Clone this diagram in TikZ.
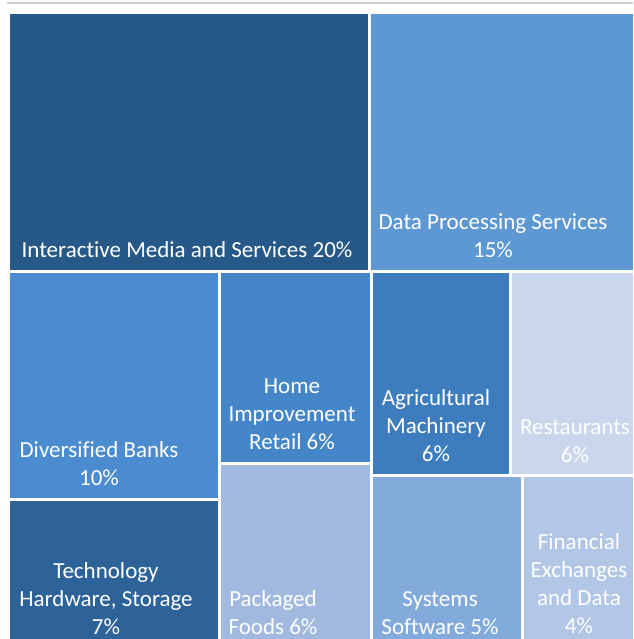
\documentclass[tikz,border=0pt]{standalone}
\usepackage{fontspec}
\setmainfont{Carlito}[Ligatures=NoCommon]
\usepackage{tikz}
\usetikzlibrary{positioning}
\definecolor{tmIMS}{RGB}{38,89,135}
\definecolor{tmDPS}{RGB}{94,152,211}
\definecolor{tmDB}{RGB}{74,140,207}
\definecolor{tmTHS}{RGB}{45,99,152}
\definecolor{tmHIR}{RGB}{68,134,200}
\definecolor{tmPF}{RGB}{161,185,223}
\definecolor{tmAM}{RGB}{62,125,189}
\definecolor{tmRE}{RGB}{201,214,236}
\definecolor{tmSS}{RGB}{130,170,218}
\definecolor{tmFED}{RGB}{178,198,229}
\definecolor{tmrule}{RGB}{205,205,205}
\tikzstyle{tile} = [rectangle, draw=none, inner sep=0pt, outer sep=0pt, anchor=north west]
\tikzstyle{label} = [text=white, align=center, inner sep=0pt, font=\fontsize{23}{28}\selectfont]

\begin{document}
\begin{tikzpicture}[x=1pt, y=-1pt]
\useasboundingbox (0,0) rectangle (633,639);
% rule above the chart
\draw[tmrule, line width=1.5pt] (7,3) -- (633,3);

% Treemap tiles
\node (ims) [tile, fill=tmIMS, minimum width=358pt, minimum height=256pt] at (10,14) {};
\node (dps) [tile, fill=tmDPS, minimum width=262pt, minimum height=256pt] at (371,14) {};
\node (db) [tile, fill=tmDB, minimum width=208pt, minimum height=225pt] at (10,273) {};
\node (ths) [tile, fill=tmTHS, minimum width=208pt, minimum height=138pt] at (10,501) {};
\node (hir) [tile, fill=tmHIR, minimum width=149pt, minimum height=189pt] at (221,273) {};
\node (pf) [tile, fill=tmPF, minimum width=149pt, minimum height=174pt] at (221,465) {};
\node (am) [tile, fill=tmAM, minimum width=136pt, minimum height=201pt] at (373,273) {};
\node (re) [tile, fill=tmRE, minimum width=121pt, minimum height=201pt] at (512,273) {};
\node (ss) [tile, fill=tmSS, minimum width=148pt, minimum height=162pt] at (373,477) {};
\node (fed) [tile, fill=tmFED, minimum width=109pt, minimum height=162pt] at (524,477) {};

% Labels
\node (imslbl) [label] at (187,250) {Interactive Media and Services 20\%};
\node (dpslbl) [label] at (493,236) {Data Processing Services\\15\%};
\node (dblbl) [label] at (99,464) {Diversified Banks\\10\%};
\node (thslbl) [label] at (106,599) {Technology\\Hardware, Storage\\7\%};
\node (hirlbl) [label] at (292,414) {Home\\Improvement\\Retail 6\%};
\node (pflbl) [label] at (273,613) {Packaged\\Foods 6\%};
\node (amlbl) [label] at (436,426) {Agricultural\\Machinery\\6\%};
\node (relbl) [label] at (575,441) {Restaurants\\6\%};
\node (sslbl) [label] at (440,613) {Systems\\Software 5\%};
\node (fedlbl) [label] at (579,584) {Financial\\Exchanges\\and Data\\4\%};
\end{tikzpicture}
\end{document}
